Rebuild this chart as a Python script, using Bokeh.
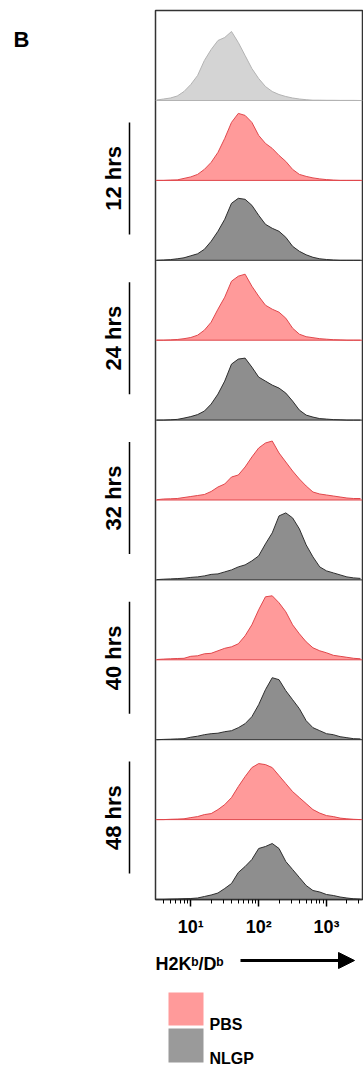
import numpy as np
from bokeh.plotting import figure
from bokeh.models import Range1d, FixedTicker, Span, Arrow, NormalHead
from bokeh.layouts import column, row
from bokeh.core.properties import value
from bokeh.embed import file_html
from bokeh.resources import INLINE

# ---------------- data ----------------
# histogram channel centres, log10 of H2Kb/Db fluorescence
log_bins = [0.5, 0.6, 0.7, 0.8, 0.9, 1.0, 1.1, 1.2, 1.3, 1.4, 1.5, 1.6, 1.7, 1.8, 1.9, 2.0,
            2.1, 2.2, 2.3, 2.4, 2.5, 2.6, 2.7, 2.8, 2.9, 3.0, 3.1, 3.2, 3.3, 3.4, 3.5]

# event counts (arbitrary units)
control = [0.5, 1.5, 2.5, 4.5, 9, 16, 25, 40, 51, 60, 63, 69, 58, 45, 32, 22,
           14, 9, 6, 4, 2.5, 1.5, 0.8, 0.3, 0.3, 0.2, 0.2, 0.1, 0.1, 0.1, 0]
pbs_12 = [0, 0, 0.3, 0.5, 2, 3.5, 6, 11, 18, 28, 42, 58, 67, 65, 58, 45,
          37, 32, 25, 19, 11, 6, 4, 2.5, 1.5, 0.8, 0.3, 0, 0, 0, 0]
nlgp_12 = [0, 0.3, 0.7, 1.5, 2.5, 4.5, 6.5, 11, 19, 29, 41, 57, 62, 61, 55, 45,
           36, 32, 29, 23, 14, 9, 5.5, 3, 1.5, 0.8, 0.3, 0, 0, 0, 0]
pbs_24 = [0, 0, 0.3, 0.7, 1.5, 2.7, 5, 10, 18, 31, 43, 59, 64, 66, 54, 44,
          35, 31, 28, 22, 12, 6, 3.5, 2.5, 1.5, 1, 0.5, 0.3, 0, 0, 0]
nlgp_24 = [0, 0, 0.3, 0.7, 2, 3.5, 5.5, 9, 16, 26, 39, 56, 61, 62, 53, 43,
           39, 35, 32, 27, 19, 10, 5, 3, 1.5, 1, 0.5, 0.3, 0, 0, 0]
pbs_32 = [0.3, 1, 1.2, 1.5, 2.5, 3.5, 4.5, 5.5, 8.5, 13, 16, 23, 25, 33, 43, 52,
          57, 59, 47, 38, 29, 21, 14, 8, 6, 5, 4, 3, 2, 1.5, 1.5]
nlgp_32 = [0.3, 0.7, 1, 1.3, 1.7, 2.5, 3, 4, 5.5, 6, 8, 10, 13, 15, 19, 24,
           36, 47, 64, 67, 62, 51, 35, 23, 13, 9, 7, 5, 3, 2, 1.5]
pbs_40 = [0.3, 0.7, 1, 1.3, 1.5, 3.5, 4, 6, 6.5, 9, 11.5, 13, 16, 24, 35, 50,
          63, 64, 57, 48, 35, 26, 18, 12, 9, 7, 4.5, 3.5, 2.5, 1.5, 1]
nlgp_40 = [0, 0.3, 0.5, 0.8, 1, 2.5, 3.5, 5, 6, 6.5, 8, 9, 12, 16, 23, 35,
           50, 62, 60, 49, 40, 31, 19, 12, 9, 6, 5, 3, 2, 1, 0.8]
pbs_48 = [0, 0, 0.3, 0.5, 0.8, 2, 3, 5, 6, 10, 15, 22, 33, 43, 52, 56,
          55, 52, 44, 36, 28, 22, 16, 10, 6.5, 4, 3, 1.5, 0.8, 0.3, 0]
nlgp_48 = [0, 0, 0.3, 0.5, 0.8, 1, 1.5, 3, 4.5, 6.5, 11, 16, 27, 33, 40, 51,
           53, 56, 51, 38, 30, 22, 14, 9, 7.5, 5, 4, 2.5, 1.5, 0.7, 0.3]

time_labels = ["12 hrs", "24 hrs", "32 hrs", "40 hrs", "48 hrs"]
legend_labels = ["PBS", "NLGP"]
panel_label = "B"
x_label = "H2Kᵇ/Dᵇ"
major_ticks = [10, 100, 1000]
minor_ticks = [3, 4, 5, 6, 7, 8, 9,
               20, 30, 40, 50, 60, 70, 80, 90,
               200, 300, 400, 500, 600, 700, 800, 900,
               2000, 3000]
tick_labels = {10: "10¹", 100: "10²", 1000: "10³"}

# ---------------- styles ----------------
CTRL_FILL, CTRL_LINE = "#d4d4d4", "#b3b3b3"
PBS_FILL, PBS_LINE = "#ff9a9a", "#e0474c"
NLGP_FILL, NLGP_LINE = "#8e8e8e", "#2e2e2e"
LEG_COLORS = ["#ff9a9a", "#9a9a9a"]
FONT = value("Liberation Sans")

FRAME_H = 889
TOP_PANEL_H = 90
PANEL_H = 79.9
TOP_B, BOT_B = 10, 42
LEFT_W = 154


def baseline(k):
    return FRAME_H - TOP_PANEL_H - PANEL_H * k


series = [(control, CTRL_FILL, CTRL_LINE),
          (pbs_12, PBS_FILL, PBS_LINE), (nlgp_12, NLGP_FILL, NLGP_LINE),
          (pbs_24, PBS_FILL, PBS_LINE), (nlgp_24, NLGP_FILL, NLGP_LINE),
          (pbs_32, PBS_FILL, PBS_LINE), (nlgp_32, NLGP_FILL, NLGP_LINE),
          (pbs_40, PBS_FILL, PBS_LINE), (nlgp_40, NLGP_FILL, NLGP_LINE),
          (pbs_48, PBS_FILL, PBS_LINE), (nlgp_48, NLGP_FILL, NLGP_LINE)]

# ---------------- main histogram stack ----------------
p = figure(width=209, height=TOP_B + FRAME_H + BOT_B, x_axis_type="log",
           x_range=Range1d(10 ** 0.48, 10 ** 3.53), y_range=Range1d(0, FRAME_H),
           output_backend="svg", toolbar_location=None, title=None,
           y_axis_location=None,
           min_border_left=1, min_border_right=1,
           min_border_top=TOP_B, min_border_bottom=BOT_B)
p.xgrid.visible = False
p.ygrid.visible = False
p.outline_line_color = "#333333"
p.outline_line_width = 1.5
p.background_fill_color = "white"
p.border_fill_color = "white"

ax = p.xaxis[0]
ax.ticker = FixedTicker(ticks=major_ticks, minor_ticks=minor_ticks)
ax.major_label_overrides = tick_labels
ax.axis_line_color = "#333333"
ax.axis_line_width = 1.5
ax.major_tick_in = 0
ax.major_tick_out = 7
ax.minor_tick_in = 0
ax.minor_tick_out = 4
ax.major_tick_line_width = 1.5
ax.major_tick_line_color = "black"
ax.minor_tick_line_color = "black"
ax.minor_tick_line_width = 1
ax.major_label_text_font = "Liberation Sans"
ax.major_label_text_font_style = "bold"
ax.major_label_text_font_size = "18px"
ax.major_label_text_color = "black"
ax.major_label_standoff = 10

xs = [10 ** L for L in log_bins]
for k, (vals, fill, edge) in enumerate(series):
    b = baseline(k)
    ys = [b + v for v in vals]
    p.varea(x=xs, y1=[b] * len(xs), y2=ys, fill_color=fill)
    p.add_layout(Span(location=b, dimension="width", line_color=edge, line_width=1))
    p.line(xs, ys, line_color=edge, line_width=1)

# ---------------- left labels ----------------
left = figure(width=LEFT_W, height=TOP_B + FRAME_H + BOT_B,
              x_range=Range1d(0, LEFT_W), y_range=p.y_range,
              output_backend="svg", toolbar_location=None, title=None,
              x_axis_location=None, y_axis_location=None,
              min_border_left=0, min_border_right=0,
              min_border_top=TOP_B, min_border_bottom=BOT_B)
left.xgrid.visible = False
left.ygrid.visible = False
left.outline_line_color = None

left.text(x=[13], y=[860.5], text=[panel_label], text_font=FONT, text_font_style="bold",
          text_font_size="22px", text_align="left", text_baseline="alphabetic",
          text_color="black")

centers = [(baseline(2 * i) + baseline(2 * i + 2)) / 2 + 2 for i in range(len(time_labels))]
left.text(x=[113] * len(centers), y=centers, text=time_labels, angle=np.pi / 2,
          text_font=FONT, text_font_style="bold", text_font_size="22px",
          text_align="center", text_baseline="middle", text_color="black")
left.segment(x0=[129] * len(centers), y0=[c - 56 for c in centers],
             x1=[129] * len(centers), y1=[c + 56 for c in centers],
             line_color="black", line_width=1.5)

# ---------------- axis title, arrow, legend ----------------
P2_H = 125
p2 = figure(width=363, height=P2_H, x_range=Range1d(0, 363), y_range=Range1d(P2_H, 0),
            output_backend="svg", toolbar_location=None, title=None,
            x_axis_location=None, y_axis_location=None, min_border=0)
p2.xgrid.visible = False
p2.ygrid.visible = False
p2.outline_line_color = None

p2.text(x=[155], y=[22.5], text=[x_label], text_font=FONT, text_font_style="bold",
        text_font_size="18px", text_align="left", text_baseline="alphabetic",
        text_color="black")
p2.add_layout(Arrow(end=NormalHead(size=16, fill_color="black", line_color="black"),
                    x_start=240, y_start=19, x_end=354, y_end=19,
                    line_width=3, line_color="black"))

p2.quad(left=[168, 168], right=[203, 203], top=[51, 87], bottom=[84, 121],
        fill_color=LEG_COLORS, line_color=None)
p2.text(x=[209, 209], y=[83, 117], text=legend_labels, text_font=FONT,
        text_font_style="bold", text_font_size="16px", text_align="left",
        text_baseline="alphabetic", text_color="black")

layout = column(row(left, p), p2)
open("out.html", "w").write(file_html(layout, INLINE))
